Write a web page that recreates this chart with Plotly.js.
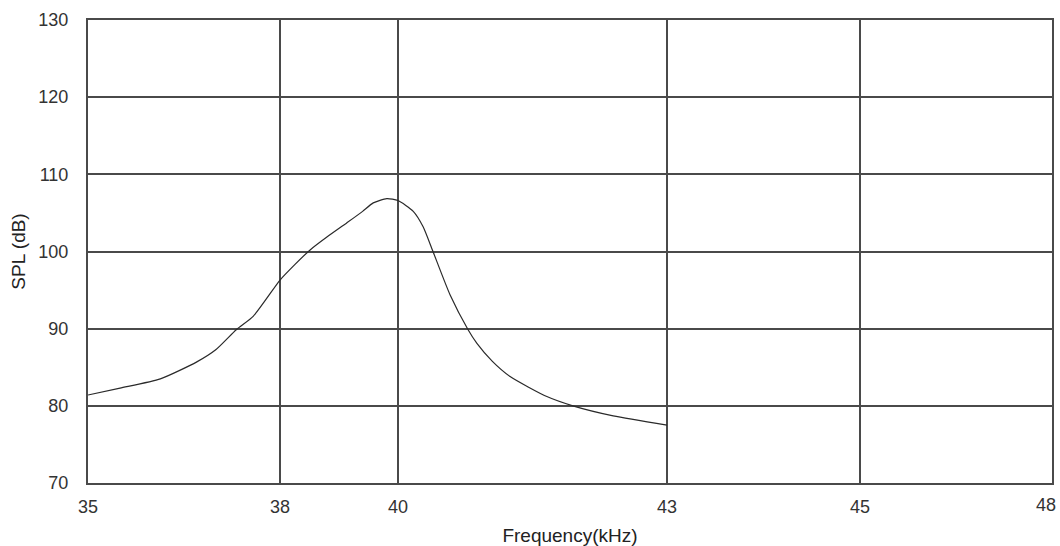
<!DOCTYPE html>
<html>
<head>
<meta charset="utf-8">
<script src="https://cdn.plot.ly/plotly-3.0.1.min.js"></script>
<style>html,body{margin:0;padding:0;background:#fff;}#chart{width:1060px;height:546px;}</style>
</head>
<body>
<div id="chart"></div>
<script>
// Frequency (kHz) and SPL (dB)
const freq = [35.0, 35.5, 36.13, 36.7, 37.0, 37.32, 37.58, 38.0, 38.25, 38.51, 38.8, 39.13, 39.4, 39.58, 39.81, 40.0, 40.17, 40.28, 40.39, 40.58, 40.78, 40.88, 41.05, 41.25, 41.66, 41.95, 42.4, 43.0];
const spl  = [81.4, 82.3, 83.5, 85.7, 87.3, 89.9, 91.6, 96.3, 98.3, 100.2, 101.9, 103.7, 105.2, 106.3, 106.85, 106.6, 105.2, 103.2, 100.0, 94.4, 89.9, 88.1, 85.8, 83.8, 81.2, 80.0, 78.7, 77.5];
const tickFreq = [35, 38, 40, 43, 45, 48];
const tickLabels = ['35', '38', '40', '43', '45', '48'];
const yTicks = [70, 80, 90, 100, 110, 120, 130];

// The reference's frequency axis is non-uniform: each tick frequency sits at its own axis position.
const axisPos = [0, 192, 310, 579, 772, 964];
function freqToAxis(f) {
  for (let i = 0; i < tickFreq.length - 1; i++) {
    if (f <= tickFreq[i + 1]) {
      const t = (f - tickFreq[i]) / (tickFreq[i + 1] - tickFreq[i]);
      return axisPos[i] + t * (axisPos[i + 1] - axisPos[i]);
    }
  }
  return axisPos[axisPos.length - 1];
}

const trace = {
  x: freq.map(freqToAxis),
  y: spl,
  type: 'scatter',
  mode: 'lines',
  line: {color: '#2a2a2a', width: 1.2, shape: 'spline', smoothing: 0.6},
  hoverinfo: 'skip'
};

const tickFont = {family: 'Liberation Sans, Arial, sans-serif', size: 18, color: '#333'};
const titleFont = {family: 'Liberation Sans, Arial, sans-serif', size: 19, color: '#222'};

// last x label sits at the very right edge; draw it as an annotation nudged inward so it is not clipped
const lastIdx = tickLabels.length - 1;
const xTickText = tickLabels.map((t, i) => i === lastIdx ? '' : t);

const layout = {
  width: 1060, height: 546,
  margin: {l: 88, r: 8, t: 20, b: 63, pad: 0},
  paper_bgcolor: '#fff', plot_bgcolor: '#fff',
  showlegend: false,
  xaxis: {
    range: [axisPos[0] - 0.05, axisPos[axisPos.length - 1] + 0.05],
    tickmode: 'array',
    tickvals: tickFreq.map(freqToAxis),
    ticktext: xTickText,
    showgrid: true, gridcolor: '#4a4a4a', gridwidth: 2,
    showline: true, linecolor: '#4a4a4a', linewidth: 2, mirror: true,
    zeroline: false, ticks: '',
    ticklabelstandoff: 6,
    tickfont: tickFont,
    title: {text: 'Frequency(kHz)', font: titleFont, standoff: 14}
  },
  yaxis: {
    range: [70, 130],
    tickmode: 'array',
    tickvals: yTicks,
    ticktext: yTicks.map(String),
    showgrid: true, gridcolor: '#4a4a4a', gridwidth: 2,
    showline: true, linecolor: '#4a4a4a', linewidth: 2, mirror: true,
    zeroline: false, ticks: '',
    ticklabelstandoff: 14,
    tickfont: tickFont,
    title: {text: 'SPL (dB)', font: titleFont, standoff: 8}
  },
  annotations: [{
    text: tickLabels[lastIdx],
    x: freqToAxis(tickFreq[lastIdx]), xref: 'x',
    y: 0, yref: 'paper',
    xanchor: 'center', yanchor: 'top',
    xshift: -6, yshift: -10,
    showarrow: false,
    font: tickFont
  }]
};

Plotly.newPlot('chart', [trace], layout, {staticPlot: true, displayModeBar: false});
</script>
</body>
</html>
